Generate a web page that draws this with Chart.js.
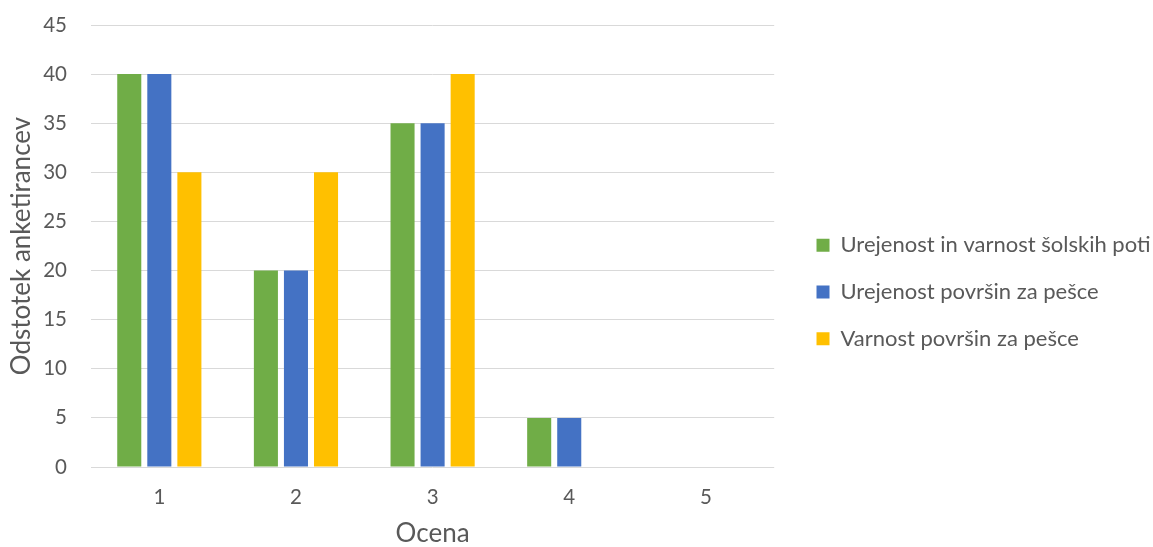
<!DOCTYPE html>
<html>
<head>
<meta charset="utf-8">
<script src="https://cdn.jsdelivr.net/npm/chart.js@4/dist/chart.umd.min.js"></script>
<style>
  html, body { margin: 0; padding: 0; background: #ffffff; }
  #wrap { width: 1153px; height: 547px; position: relative; }
</style>
</head>
<body>
<div id="wrap"><canvas id="c" width="1153" height="547"></canvas></div>
<script>
// Ratings 1–5 and the share of respondents for each survey item
const categories = ['1', '2', '3', '4', '5'];
const seriesNames = [
  'Urejenost in varnost šolskih poti',
  'Urejenost površin za pešce',
  'Varnost površin za pešce'
];
const solskePoti = [40, 20, 35, 5, 0];
const urejenostPesci = [40, 20, 35, 5, 0];
const varnostPesci = [30, 30, 40, 0, 0];
const seriesColors = ['#70AD47', '#4472C4', '#FFC000'];

const FONT = "Lato, 'Open Sans', sans-serif";
const TEXT = '#595959';

const values = [solskePoti, urejenostPesci, varnostPesci];

// Room reserved between the plot area and the legend, plus a nudge of the legend itself.
const LEGEND_GAP = 8;
const LEGEND_SHIFT_X = 17.5;
const LEGEND_SHIFT_Y = 6;
const legendSpacing = {
  id: 'legendSpacing',
  afterInit(chart) {
    const legend = chart.legend;
    const fit = legend.fit.bind(legend);
    legend.fit = function () {
      fit();
      this.width += LEGEND_GAP;
    };
  },
  afterLayout(chart) {
    const legend = chart.legend;
    legend.left += LEGEND_SHIFT_X;
    legend.right += LEGEND_SHIFT_X;
    legend.top += LEGEND_SHIFT_Y;
    legend.bottom += LEGEND_SHIFT_Y;
  }
};

function draw() {
  new Chart(document.getElementById('c'), {
    type: 'bar',
    data: {
      labels: categories,
      datasets: seriesNames.map((name, i) => ({
        label: name,
        data: values[i],
        backgroundColor: seriesColors[i],
        borderWidth: 0,
        barPercentage: 0.8,
        categoryPercentage: 0.66
      }))
    },
    plugins: [legendSpacing],
    options: {
      responsive: false,
      animation: false,
      layout: { padding: { top: 25, left: 9, right: 2, bottom: 0 } },
      plugins: {
        tooltip: { enabled: false },
        legend: {
          position: 'right',
          align: 'center',
          maxWidth: 500,
          labels: {
            boxWidth: 13,
            boxHeight: 13,
            padding: 24.8,
            color: TEXT,
            font: { family: FONT, size: 22 }
          }
        }
      },
      scales: {
        x: {
          grid: { display: false },
          border: { display: false },
          ticks: { color: TEXT, font: { family: FONT, size: 20.5 }, padding: 10 },
          title: {
            display: true,
            text: 'Ocena',
            color: TEXT,
            font: { family: FONT, size: 26, lineHeight: 1 },
            padding: 0
          },
          afterFit(scale) { scale.height = 80; }
        },
        y: {
          min: 0,
          max: 45,
          ticks: { stepSize: 5, color: TEXT, font: { family: FONT, size: 20.5 }, padding: 24 },
          grid: { color: '#D9D9D9', lineWidth: 1, drawTicks: false },
          border: { display: false },
          title: {
            display: true,
            text: 'Odstotek anketirancev',
            color: TEXT,
            font: { family: FONT, size: 26, lineHeight: 1 },
            padding: 0
          },
          afterFit(scale) {
            scale.width = 82;
            scale.paddingTop = 0;
            scale.paddingBottom = 0;
          }
        }
      }
    }
  });
}

Promise.all([
  document.fonts.load('20.5px Lato'),
  document.fonts.load('22px Lato'),
  document.fonts.load('26px Lato')
]).then(draw, draw);
</script>
</body>
</html>
